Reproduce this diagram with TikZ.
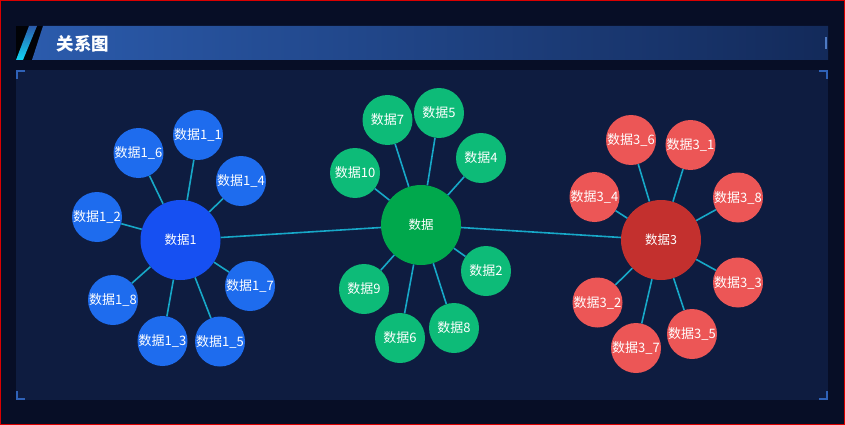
\documentclass[tikz,border=0pt]{standalone}
\usepackage{fontspec}
\newfontfamily\cjk{Noto Sans CJK SC}
\usetikzlibrary{shapes.geometric}
\definecolor{bgout}{HTML}{070E26}
\definecolor{bgpanel}{HTML}{0E1C40}
\definecolor{bracketc}{HTML}{2F62B8}
\definecolor{barl}{HTML}{2B5BAC}
\definecolor{barr}{HTML}{132A5A}
\definecolor{cyanl}{HTML}{10D4F2}
\definecolor{edgec}{HTML}{17A8C8}
\definecolor{bluec}{HTML}{1650F2}
\definecolor{bluek}{HTML}{1E6CEE}
\definecolor{greenc}{HTML}{00A84C}
\definecolor{greenk}{HTML}{0DBB78}
\definecolor{redc}{HTML}{C3302E}
\definecolor{redk}{HTML}{EC5656}
\tikzset{
  lbl/.style={text=white,font=\cjk\fontsize{13}{15}\selectfont,inner sep=0pt},
  hub/.style={circle,minimum size=80pt,lbl,font=\cjk\fontsize{12.5}{14}\selectfont},
  kid/.style={circle,minimum size=50pt,lbl},
  link/.style={draw=edgec,line width=1.6pt},
}
\begin{document}
\begin{tikzpicture}[x=1pt,y=-1pt]
\useasboundingbox (0,0) rectangle (845,425);
\fill[bgout] (0,0) rectangle (845,425);
% panel
\fill[bgpanel] (16,70) rectangle (828,400);
% corner brackets
\draw[bracketc,line width=1.6pt] (16.8,79) -- (16.8,70.8) -- (25,70.8);
\draw[bracketc,line width=1.6pt] (819,70.8) -- (827.2,70.8) -- (827.2,79);
\draw[bracketc,line width=1.6pt] (16.8,391) -- (16.8,399.2) -- (25,399.2);
\draw[bracketc,line width=1.6pt] (819,399.2) -- (827.2,399.2) -- (827.2,391);
% title bar
\fill[black!85!bgout] (16,26) rectangle (44,60);
\shade[left color=barl,right color=barr] (43,26) -- (828,26) -- (828,60) -- (32,60) -- cycle;
\shade[bottom color=cyanl,top color=barl] (16,60) -- (23,60) -- (37,26) -- (29,26) -- cycle;
\draw[bracketc!85!white,line width=2.5pt] (826,37) -- (826,49);
\node[anchor=west,text=white,font=\cjk\bfseries\fontsize{17.5}{19}\selectfont,inner sep=0pt] (title) at (56.5,43.5) {关系图};
% hubs
\node[hub,fill=greenc] (c0) at (421,225) {数据};
\node[hub,fill=bluec] (c1) at (180.5,240) {数据1};
\node[hub,fill=redc] (c3) at (661,240) {数据3};
% green kids
\node[kid,fill=greenk] (g7) at (387.5,120) {数据7};
\node[kid,fill=greenk] (g5) at (439,113) {数据5};
\node[kid,fill=greenk] (g4) at (481,158) {数据4};
\node[kid,fill=greenk] (g10) at (355,173) {数据10};
\node[kid,fill=greenk] (g2) at (486,271) {数据2};
\node[kid,fill=greenk] (g9) at (364,289) {数据9};
\node[kid,fill=greenk] (g8) at (454,328) {数据8};
\node[kid,fill=greenk] (g6) at (400,338) {数据6};
% blue kids
\node[kid,fill=bluek] (b1) at (198,135) {数据1\_1};
\node[kid,fill=bluek] (b6) at (138.5,153) {数据1\_6};
\node[kid,fill=bluek] (b4) at (241,181) {数据1\_4};
\node[kid,fill=bluek] (b2) at (97,217) {数据1\_2};
\node[kid,fill=bluek] (b7) at (250,286) {数据1\_7};
\node[kid,fill=bluek] (b8) at (113,300) {数据1\_8};
\node[kid,fill=bluek] (b3) at (162.5,341) {数据1\_3};
\node[kid,fill=bluek] (b5) at (220,341.5) {数据1\_5};
% red kids
\node[kid,fill=redk] (r6) at (631,140) {数据3\_6};
\node[kid,fill=redk] (r1) at (690.5,145) {数据3\_1};
\node[kid,fill=redk] (r8) at (738,197.5) {数据3\_8};
\node[kid,fill=redk] (r4) at (594.5,197) {数据3\_4};
\node[kid,fill=redk] (r3) at (738,282.5) {数据3\_3};
\node[kid,fill=redk] (r2) at (597.5,302.5) {数据3\_2};
\node[kid,fill=redk] (r5) at (692,334) {数据3\_5};
\node[kid,fill=redk] (r7) at (636,348) {数据3\_7};
% links
\draw[link] (c0) -- (c1);
\draw[link] (c0) -- (c3);
\foreach \k in {g7,g5,g4,g10,g2,g9,g8,g6} \draw[link] (c0) -- (\k);
\foreach \k in {b1,b6,b4,b2,b7,b8,b3,b5} \draw[link] (c1) -- (\k);
\foreach \k in {r6,r1,r8,r4,r3,r2,r5,r7} \draw[link] (c3) -- (\k);
% outer red frame
\draw[red!85!black,line width=1pt] (0.5,0.5) rectangle (844.5,424.5);
\end{tikzpicture}
\end{document}
